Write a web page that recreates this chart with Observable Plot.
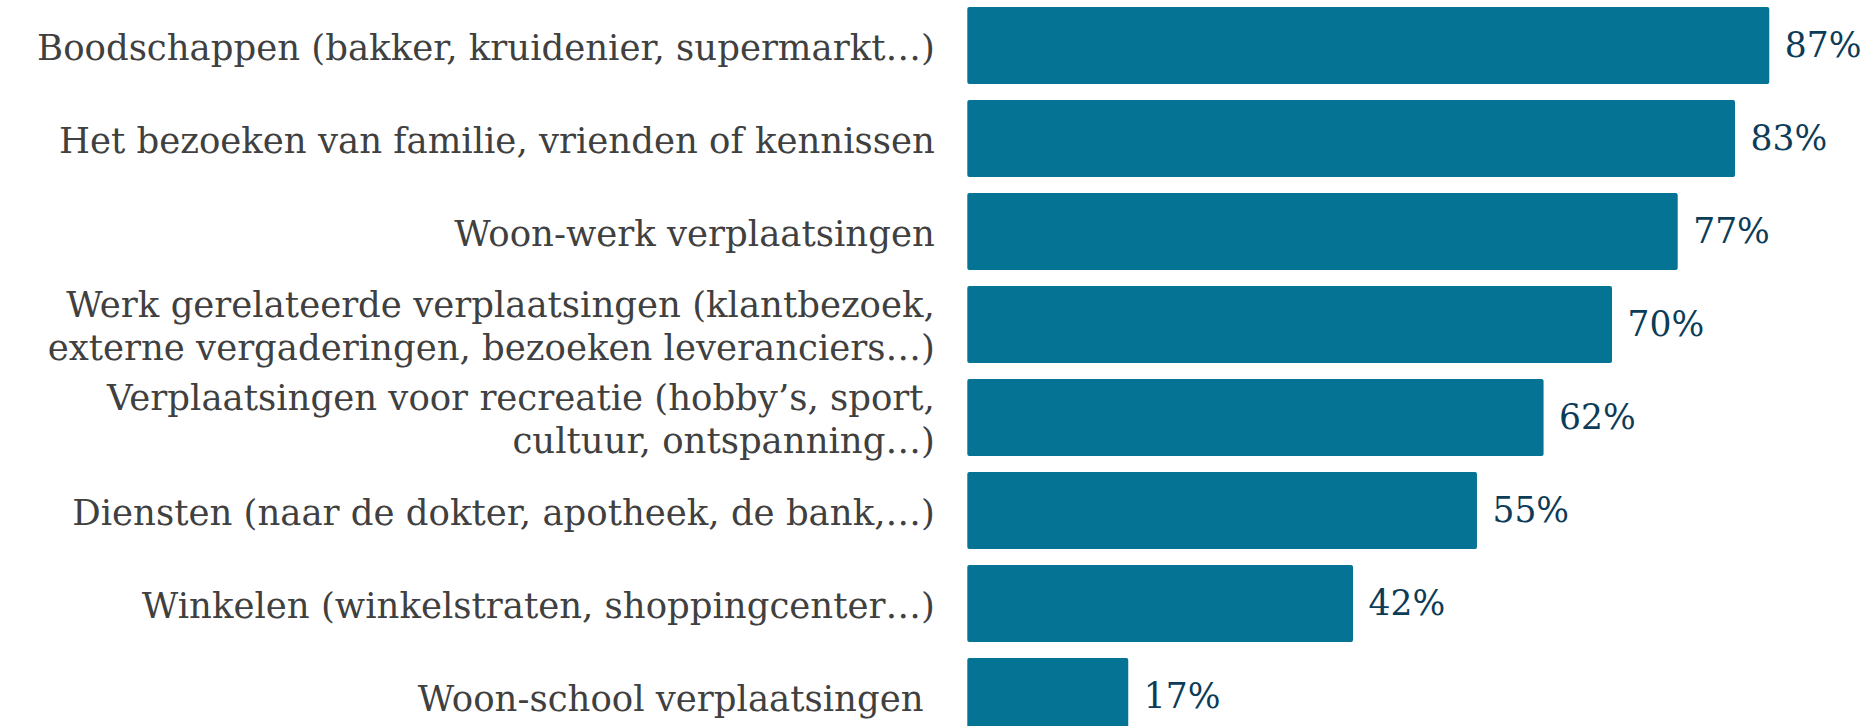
<!DOCTYPE html>
<html>
<head>
<meta charset="utf-8">
<script src="https://cdn.jsdelivr.net/npm/d3@7"></script>
<script src="https://cdn.jsdelivr.net/npm/@observablehq/plot@0.6"></script>
<style>
  html, body { margin: 0; padding: 0; background: #fff; overflow: hidden; }
  #chart { width: 1870px; height: 726px; overflow: hidden; }
</style>
</head>
<body>
<div id="chart"></div>
<script>
const categories = [
  "Boodschappen (bakker, kruidenier, supermarkt…)",
  "Het bezoeken van familie, vrienden of kennissen",
  "Woon-werk verplaatsingen",
  "Werk gerelateerde verplaatsingen (klantbezoek,\nexterne vergaderingen, bezoeken leveranciers…)",
  "Verplaatsingen voor recreatie (hobby’s, sport,\ncultuur, ontspanning…)",
  "Diensten (naar de dokter, apotheek, de bank,…)",
  "Winkelen (winkelstraten, shoppingcenter…)",
  "Woon-school verplaatsingen "
];
// bar lengths (labels are rounded)
const values = [86.7, 83.0, 76.8, 69.7, 62.3, 55.1, 41.7, 17.4];
const valueLabels = ["87%", "83%", "77%", "70%", "62%", "55%", "42%", "17%"];

const data = categories.map((c, i) => ({cat: c, value: values[i], label: valueLabels[i]}));

const font = "DejaVu Serif";

const chart = Plot.plot({
  width: 1870,
  height: 726,
  marginTop: 0, marginBottom: 0, marginLeft: 0, marginRight: 0,
  style: {background: "#fff", overflow: "hidden"},
  x: {domain: [0, 100], range: [967.3, 1892.3], axis: null},
  y: {domain: categories, range: [-1.3, 742.7], paddingInner: 0.172, paddingOuter: 0.086, axis: null},
  marks: [
    Plot.barX(data, {x: "value", y: "cat", fill: "#057394", rx: 2}),
    Plot.text(data, {
      x: "value", y: "cat", text: "label", dx: 15, textAnchor: "start",
      fill: "#0c3c57", fontSize: 34.5, fontFamily: font
    }),
    Plot.text(data, {
      x: 0, y: "cat", text: "cat", dx: -33, textAnchor: "end", lineHeight: 1.19,
      fill: "#404040", fontSize: 35.5, fontFamily: font
    })
  ]
});
document.getElementById("chart").appendChild(chart);
</script>
</body>
</html>
